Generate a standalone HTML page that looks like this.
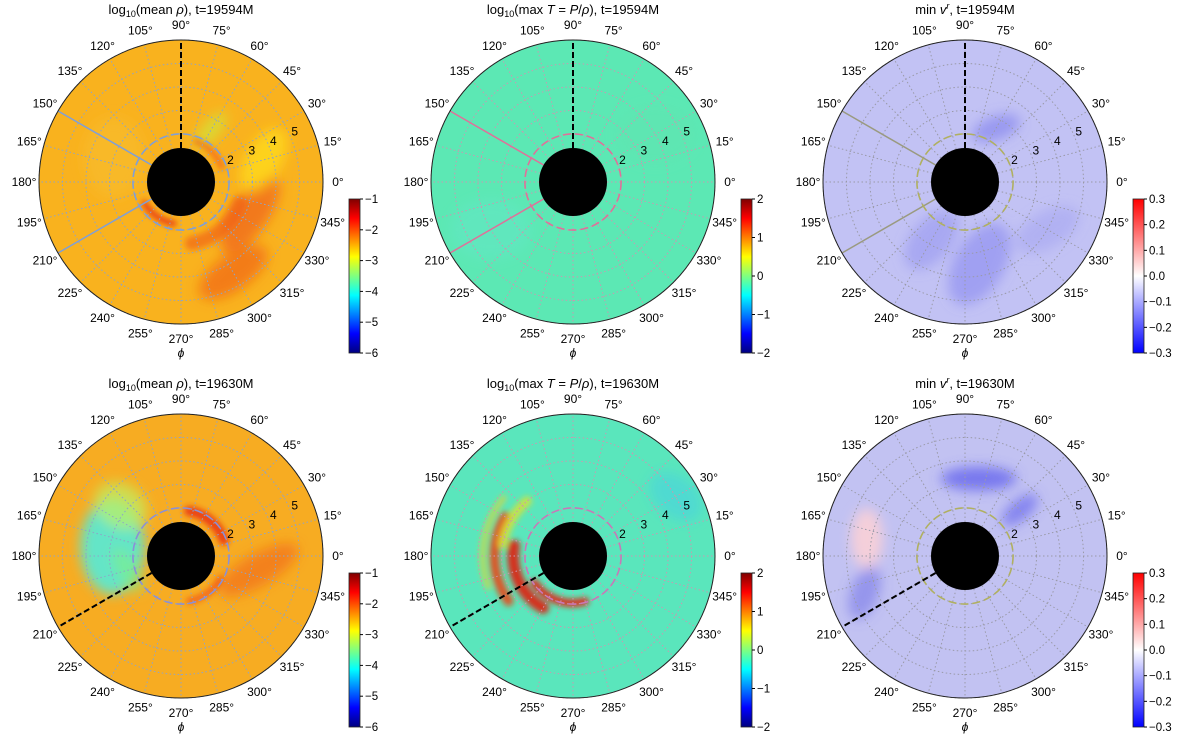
<!DOCTYPE html>
<html><head><meta charset="utf-8"><style>
html,body{margin:0;padding:0;background:#fff;}
svg{display:block;font-family:"Liberation Sans","DejaVu Sans",sans-serif;}
</style></head><body>
<svg id="fig" width="1200" height="743" viewBox="0 0 1200 743" xmlns="http://www.w3.org/2000/svg">
<defs>
<filter id="blur6" x="-50%" y="-50%" width="200%" height="200%"><feGaussianBlur stdDeviation="6"/></filter>
<filter id="blur3" x="-50%" y="-50%" width="200%" height="200%"><feGaussianBlur stdDeviation="3"/></filter>
<linearGradient id="jet" x1="0" y1="1" x2="0" y2="0">
<stop offset="0" stop-color="#000080"/><stop offset="0.125" stop-color="#0000ff"/><stop offset="0.375" stop-color="#00ffff"/><stop offset="0.625" stop-color="#ffff00"/><stop offset="0.875" stop-color="#ff0000"/><stop offset="1" stop-color="#800000"/>
</linearGradient>
<linearGradient id="bwr" x1="0" y1="1" x2="0" y2="0">
<stop offset="0" stop-color="#0000ff"/><stop offset="0.5" stop-color="#ffffff"/><stop offset="1" stop-color="#ff0000"/>
</linearGradient>
</defs>
</svg>
<script>
const angleTicks=[0,15,30,45,60,75,90,105,120,135,150,165,180,195,210,225,240,255,270,285,300,315,330,345];
const radialTicks=[2,3,4,5];
const ringRadii=[2,3,4,5,6];
const cbTicksRho=[-1,-2,-3,-4,-5,-6];
const cbTicksT=[2,1,0,-1,-2];
const cbTicksV=[0.3,0.2,0.1,0.0,-0.1,-0.2,-0.3];
const NS="http://www.w3.org/2000/svg";
const svg=document.getElementById('fig');
const R=142, rMin=1.4, rMax=6;
function rpx(r){return 34+(r-rMin)/(rMax-rMin)*(R-34);}
function el(tag,attrs,parent){const e=document.createElementNS(NS,tag);for(const k in attrs)e.setAttribute(k,attrs[k]);(parent||svg).appendChild(e);return e;}
function pt(cx,cy,deg,r){const a=deg*Math.PI/180;return [cx+r*Math.cos(a),cy-r*Math.sin(a)];}

const panels=[
 {cx:181,cy:182,kind:'rho',t:"19594M",base:'#f9b21e',dash:'#7f9fd8',grid:'#8fa4c8',cut:[90],lines:[150,210],lc:'#7f9fd8'},
 {cx:573,cy:182,kind:'T',t:"19594M",base:'#5ce8b4',dash:'#e0709a',grid:'#c89ab0',cut:[90],lines:[150,210],lc:'#e0709a'},
 {cx:965,cy:182,kind:'v',t:"19594M",base:'#c2c2f4',dash:'#b0b060',grid:'#9a9aa8',cut:[90],lines:[150,210],lc:'#9a9a80'},
 {cx:181,cy:556,kind:'rho',t:"19630M",base:'#f7ac22',dash:'#8a90d8',grid:'#8fa4c8',cut:[210],lines:[],lc:''},
 {cx:573,cy:556,kind:'T',t:"19630M",base:'#5ae6bc',dash:'#c878b8',grid:'#c89ab0',cut:[210],lines:[],lc:''},
 {cx:965,cy:556,kind:'v',t:"19630M",base:'#c2c2f2',dash:'#b0b060',grid:'#9a9aa8',cut:[210],lines:[],lc:''}
];
// ellipse features: [angleDeg, radius(data), rx, ry, rotation, color, opacity]
const feats=[
 [[335,3.2,18,45,35,'#f06018',0.7],[300,4.4,18,40,55,'#f05818',0.6],[15,3.6,35,18,-60,'#ffe020',0.7],[60,2.5,22,9,-50,'#c8f040',0.6],[160,3.0,30,40,0,'#f8c030',0.5]],
 [[210,4,40,30,0,'#64e8c8',0.5],[30,4,40,30,0,'#60e4b0',0.4]],
 [[280,3.5,25,45,30,'#8080f0',0.5],[240,2.8,20,35,40,'#9090f0',0.5],[60,2.6,25,12,-20,'#7070ee',0.5],[330,4,18,35,60,'#9898f0',0.4]],
 [[172,2.9,32,48,0,'#5ce8d0',0.95],[140,3.3,28,22,30,'#c0f060',0.7],[350,3.3,16,45,60,'#f05818',0.5],[195,2.3,25,10,60,'#80f080',0.6]],
 [[30,5,30,20,40,'#40c8f0',0.4]],
 [[170,4.2,16,30,0,'#f8d0d8',0.95],[80,3.3,38,12,0,'#5a5aec',0.7],[40,3,22,10,-40,'#5a5aee',0.6],[200,4.5,14,28,20,'#6868e8',0.5]]
];
// arc features: [startDeg, endDeg, radius(data), width px, color, opacity]
const arcs=[
 [[210,260,1.75,6,'#e83010',0.85],[20,70,1.8,5,'#f04010',0.6],[280,340,2.6,14,'#f05818',0.6]],
 [],
 [],
 [[20,80,1.9,10,'#e82810',0.8],[280,330,1.9,6,'#f03010',0.6]],
 [[150,215,3.3,10,'#f04010',0.85],[170,240,2.5,12,'#e02010',0.9],[215,285,1.95,8,'#e82010',0.9],[130,170,3.0,10,'#f0e020',0.7],[140,200,3.8,6,'#f8d020',0.6]],
 []
];

panels.forEach((p,i)=>{
 const g=el('g',{});
 
 
 const cid='clip'+i;
 const cp=el('clipPath',{id:cid},g);el('circle',{cx:p.cx,cy:p.cy,r:R},cp);
 const disk=el('circle',{cx:p.cx,cy:p.cy,r:R,fill:p.base},g);
 
 
 const fg=el('g',{'clip-path':'url(#'+cid+')'},g);
 const fg2=el('g',{filter:'url(#blur6)'},fg);
 feats[i].forEach(f=>{const [x,y]=pt(p.cx,p.cy,f[0],rpx(f[1]));
  const e=el('ellipse',{cx:x,cy:y,rx:f[2],ry:f[3],transform:`rotate(${f[4]} ${x} ${y})`,fill:f[5],opacity:f[6]},fg2);
  
  });
 const fg3=el('g',{filter:'url(#blur3)'},fg);
 arcs[i].forEach(a=>{const r=rpx(a[2]);const [x1,y1]=pt(p.cx,p.cy,a[0],r);const [x2,y2]=pt(p.cx,p.cy,a[1],r);
  const large=(a[1]-a[0])>180?1:0;
  const pa=el('path',{d:`M${x1},${y1} A${r},${r} 0 ${large} 0 ${x2},${y2}`,fill:'none',stroke:a[4],'stroke-width':a[3],opacity:a[5],'stroke-linecap':'round'},fg3);
  
  });
 ringRadii.forEach(r=>{const c=el('circle',{cx:p.cx,cy:p.cy,r:rpx(r),fill:'none',stroke:p.grid,'stroke-width':1,'stroke-dasharray':'1.5 2.5'},g);
  });
 angleTicks.forEach(a=>{const [x1,y1]=pt(p.cx,p.cy,a,34);const [x2,y2]=pt(p.cx,p.cy,a,R);
  const l=el('line',{x1,y1,x2,y2,stroke:p.grid,'stroke-width':1,'stroke-dasharray':'1.5 2.5'},g);
  });
 p.lines.forEach(a=>{const [x1,y1]=pt(p.cx,p.cy,a,34);const [x2,y2]=pt(p.cx,p.cy,a,R);
  const l=el('line',{x1,y1,x2,y2,stroke:p.lc,'stroke-width':1.5},g);
  });
 const dc=el('circle',{cx:p.cx,cy:p.cy,r:rpx(2),fill:'none',stroke:p.dash,'stroke-width':1.6,'stroke-dasharray':'8 4'},g);
 
 p.cut.forEach(a=>{const [x1,y1]=pt(p.cx,p.cy,a,34);const [x2,y2]=pt(p.cx,p.cy,a,R);
  const l=el('line',{x1,y1,x2,y2,stroke:'#000','stroke-width':2,'stroke-dasharray':'6 3'},g);
  });
 const bh=el('circle',{cx:p.cx,cy:p.cy,r:34,fill:'#000'},g);
 
 const ob=el('circle',{cx:p.cx,cy:p.cy,r:R,fill:'none',stroke:'#222','stroke-width':1},g);
 
 angleTicks.forEach(a=>{const [x,y]=pt(p.cx,p.cy,a,R+15);
  const t=el('text',{x,y:y+4,'text-anchor':'middle','font-size':12,fill:'#000'},g);t.textContent=a+'°';
  });
 radialTicks.forEach(r=>{const [x,y]=pt(p.cx,p.cy,24,rpx(r)+6);
  const t=el('text',{x,y:y+4,'text-anchor':'middle','font-size':12,fill:'#000'},g);t.textContent=r;
  });
 const ph=el('text',{x:p.cx,y:p.cy+175,'text-anchor':'middle','font-size':12,'font-style':'italic'},g);ph.textContent='ϕ';
 
 const tt=el('text',{x:p.cx,y:p.cy-168,'text-anchor':'middle','font-size':13},g);
 
 if(p.kind==='rho'){tt.innerHTML='log<tspan font-size="9" dy="3">10</tspan><tspan dy="-3">(mean </tspan><tspan font-style="italic">ρ</tspan>), t='+p.t;}
 else if(p.kind==='T'){tt.innerHTML='log<tspan font-size="9" dy="3">10</tspan><tspan dy="-3">(max </tspan><tspan font-style="italic">T</tspan> = <tspan font-style="italic">P</tspan>/<tspan font-style="italic">ρ</tspan>), t='+p.t;}
 else {tt.innerHTML='min <tspan font-style="italic">v</tspan><tspan font-size="9" dy="-5" font-style="italic">r</tspan><tspan dy="5">, t='+p.t+'</tspan>';}
 const bx=p.cx+168, by=p.cy+17, bw=11, bh2=154;
 const ticks=p.kind==='rho'?cbTicksRho:p.kind==='T'?cbTicksT:cbTicksV;
 const cb=el('g',{},g);
 el('rect',{x:bx,y:by,width:bw,height:bh2,fill:p.kind==='v'?'url(#bwr)':'url(#jet)',stroke:'#222','stroke-width':0.8},cb);
 const vmax=ticks[0], vmin=ticks[ticks.length-1];
 ticks.forEach(v=>{const y=by+(vmax-v)/(vmax-vmin)*bh2;
  el('line',{x1:bx+bw,y1:y,x2:bx+bw+3,y2:y,stroke:'#000'},cb);
  const t=el('text',{x:bx+bw+5,y:y+4,'font-size':11.5},cb);
  t.textContent=(v<0?'−':'')+(p.kind==='v'?Math.abs(v).toFixed(1):Math.abs(v));
  });
});
</script>
</body></html>
